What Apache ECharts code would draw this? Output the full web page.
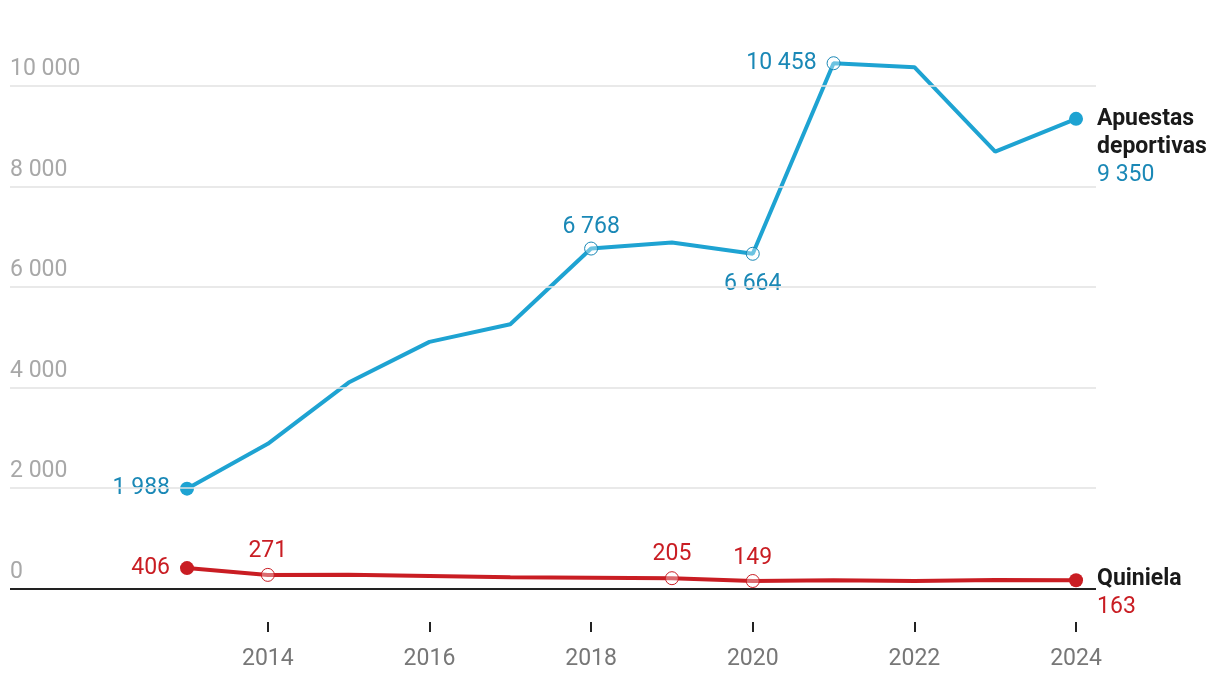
<!DOCTYPE html>
<html>
<head>
<meta charset="utf-8">
<script src="https://cdn.jsdelivr.net/npm/echarts@6/dist/echarts.min.js"></script>
<style>
html,body{margin:0;padding:0;background:#fff;}
#chart{width:1220px;height:682px;}
</style>
</head>
<body>
<div id="chart"></div>
<script>
var years = [2013, 2014, 2015, 2016, 2017, 2018, 2019, 2020, 2021, 2022, 2023, 2024];
var apuestas = [1988, 2880, 4100, 4910, 5260, 6768, 6890, 6664, 10458, 10378, 8696, 9350];
var quiniela = [406, 271, 274, 250, 225, 215, 205, 149, 165, 150, 170, 163];
var xTicks = [2014, 2016, 2018, 2020, 2022, 2024];
var yTicks = [0, 2000, 4000, 6000, 8000, 10000];
var apuestasName = 'Apuestas deportivas';
var quinielaName = 'Quiniela';

var BLUE = '#1ea3d2', BLUE_T = '#1a88b6';
var RED = '#c91d23', RED_T = '#c91d23';
var FONT = 'Roboto';
var FS = 23;

function fmt(v) {
  return String(Math.round(v)).replace(/\B(?=(\d{3})+(?!\d))/g, ' ');
}

// label position and distance for highlighted points
var apuestasLabels = {0: ['left', 10], 5: ['top', 3], 7: ['bottom', 12], 8: ['left', 10]};
var quinielaLabels = {0: ['left', 10], 1: ['top', 5], 6: ['top', 5], 7: ['top', 4]};

function buildData(vals, labels, color, tcolor, name, endOffset) {
  var last = vals.length - 1;
  return vals.map(function (v, i) {
    var item = {value: [years[i], v]};
    if (i === 0 || i === last) {
      item.symbol = 'circle';
      item.symbolSize = 14;
      item.itemStyle = {color: color};
    } else if (labels[i]) {
      item.symbol = 'circle';
      item.symbolSize = 13;
      item.itemStyle = {color: 'rgba(255,255,255,0.35)', borderColor: tcolor, borderWidth: 1};
    } else {
      item.symbol = 'none';
      item.symbolSize = 0;
    }
    if (i === last) {
      item.label = {
        show: true, position: 'right', distance: 14, offset: [0, endOffset],
        formatter: name.split(' ').map(function (s) { return '{n|' + s + '}'; }).join('\n') + '\n{v|' + fmt(v) + '}',
        rich: {
          n: {fontFamily: FONT, fontSize: FS, fontWeight: 'bold', color: '#1a1a1a', lineHeight: 28},
          v: {fontFamily: FONT, fontSize: FS, color: tcolor, lineHeight: 28}
        }
      };
    } else if (labels[i]) {
      item.label = {
        show: true, position: labels[i][0], distance: labels[i][1],
        fontFamily: FONT, fontSize: FS, color: tcolor,
        formatter: fmt(v)
      };
    }
    return item;
  });
}

var gridLines = yTicks.filter(function (v) { return v !== 0; }).map(function (v) { return {yAxis: v}; });

var chart = echarts.init(document.getElementById('chart'));
chart.setOption({
  animation: false,
  backgroundColor: '#fff',
  grid: {left: 10, right: 124, top: 36, bottom: 60, containLabel: false},
  xAxis: {
    type: 'value', min: 2010.81, max: 2024.247,
    axisLine: {show: false, onZero: false},
    axisTick: {show: true, length: 10, inside: false, customValues: xTicks, lineStyle: {color: '#222', width: 2}},
    axisLabel: {show: true, customValues: xTicks, margin: 26, fontFamily: FONT, fontSize: FS, color: '#777',
      formatter: function (v) { return String(v); }},
    splitLine: {show: false}
  },
  yAxis: {
    type: 'value', min: -667, max: 11000,
    axisLine: {show: false},
    axisTick: {show: false},
    axisLabel: {
      show: true, inside: true, margin: 0, customValues: yTicks,
      verticalAlign: 'bottom', padding: [0, 0, 5, 0],
      fontFamily: FONT, fontSize: FS, color: '#a8a8a8',
      formatter: function (v) { return fmt(v); }
    },
    splitLine: {show: false}
  },
  series: [
    {
      type: 'line', name: 'grid', data: [], silent: true,
      markLine: {
        silent: true, symbol: 'none', label: {show: false},
        lineStyle: {color: '#e2e2e2', width: 1.5, type: 'solid'},
        data: gridLines
      },
      z: 1
    },
    {
      type: 'line', name: quinielaName,
      data: buildData(quiniela, quinielaLabels, RED, RED_T, quinielaName, 13),
      lineStyle: {color: RED, width: 4},
      itemStyle: {color: RED},
      z: 3,
      markLine: {
        silent: true, symbol: 'none', label: {show: false},
        lineStyle: {color: '#222', width: 2, type: 'solid'},
        data: [{yAxis: 0}]
      }
    },
    {
      type: 'line', name: apuestasName,
      data: buildData(apuestas, apuestasLabels, BLUE, BLUE_T, apuestasName, 28),
      lineStyle: {color: BLUE, width: 4},
      itemStyle: {color: BLUE},
      z: 4
    }
  ]
});
</script>
</body>
</html>
